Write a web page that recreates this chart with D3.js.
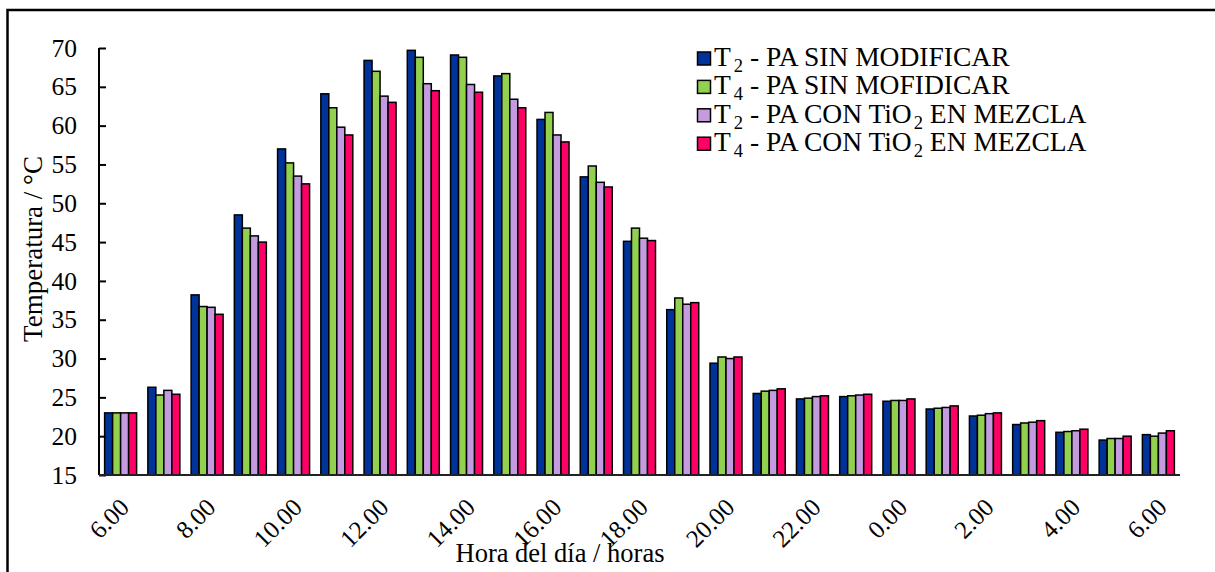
<!DOCTYPE html>
<html>
<head>
<meta charset="utf-8">
<script src="https://cdn.jsdelivr.net/npm/d3@7"></script>
<style>
  body { margin: 0; background: #fff; }
  svg { display: block; font-family: "Liberation Serif", "Times New Roman", serif; }
</style>
</head>
<body>
<div id="vis"></div>
<script>
// categories (hour of day) and tick labels
const hours = ["6.00", "7.00", "8.00", "9.00", "10.00", "11.00", "12.00", "13.00", "14.00",
  "15.00", "16.00", "17.00", "18.00", "19.00", "20.00", "21.00", "22.00", "23.00",
  "0.00", "1.00", "2.00", "3.00", "4.00", "5.00", "6.00 "];
const shownLabels = ["6.00", "8.00", "10.00", "12.00", "14.00", "16.00", "18.00", "20.00",
  "22.00", "0.00", "2.00", "4.00", "6.00 "];
const yTicks = [15, 20, 25, 30, 35, 40, 45, 50, 55, 60, 65, 70];

// series values (°C)
const t2Sin = [23.0, 26.3, 38.2, 48.5, 57.0, 64.1, 68.4, 69.7, 69.1, 66.4, 60.8, 53.4, 45.1,
  36.3, 29.4, 25.5, 24.8, 25.1, 24.5, 23.5, 22.6, 21.5, 20.5, 19.5, 20.2];
const t4Sin = [23.0, 25.3, 36.7, 46.8, 55.2, 62.3, 67.0, 68.8, 68.8, 66.7, 61.7, 54.8, 46.8,
  37.8, 30.2, 25.8, 24.9, 25.2, 24.6, 23.6, 22.7, 21.7, 20.6, 19.7, 20.0];
const t2Tio = [23.0, 25.9, 36.6, 45.8, 53.5, 59.8, 63.8, 65.4, 65.3, 63.4, 58.8, 52.7, 45.5,
  37.0, 30.0, 25.9, 25.1, 25.3, 24.6, 23.7, 22.9, 21.8, 20.7, 19.7, 20.4];
const t4Tio = [23.0, 25.4, 35.7, 45.0, 52.5, 58.8, 63.0, 64.5, 64.3, 62.3, 57.9, 52.1, 45.2,
  37.2, 30.2, 26.1, 25.2, 25.4, 24.8, 23.9, 23.0, 22.0, 20.9, 20.0, 20.7];

const seriesKeys = ["t2Sin", "t4Sin", "t2Tio", "t4Tio"];
const seriesColors = ["#003399", "#92d050", "#c49be0", "#ff0066"];
const seriesValues = [t2Sin, t4Sin, t2Tio, t4Tio];

const W = 1215, H = 572;
const plot = { left: 99, right: 1180, top: 48, bottom: 475 };

const svg = d3.select("#vis").append("svg")
  .attr("width", W)
  .attr("height", H);

// outer frame (runs off the right and bottom of the picture)
svg.append("rect")
  .attr("x", 7.5).attr("y", 10)
  .attr("width", 1300).attr("height", 700)
  .attr("fill", "none")
  .attr("stroke", "#000")
  .attr("stroke-width", 2.5);

const x = d3.scaleBand()
  .domain(hours)
  .range([plot.left, plot.right])
  .paddingInner(0.26)
  .paddingOuter(0.13);

const xSub = d3.scaleBand()
  .domain(seriesKeys)
  .range([0, x.bandwidth()]);

const y = d3.scaleLinear()
  .domain([15, 70])
  .range([plot.bottom, plot.top]);

// bars
const groups = svg.append("g")
  .selectAll("g")
  .data(hours)
  .join("g")
  .attr("transform", d => `translate(${x(d)},0)`);

groups.selectAll("rect")
  .data((d, i) => seriesKeys.map((k, j) => ({ key: k, color: seriesColors[j], value: seriesValues[j][i] })))
  .join("rect")
  .attr("x", d => xSub(d.key))
  .attr("y", d => y(d.value))
  .attr("width", xSub.bandwidth())
  .attr("height", d => y(15) - y(d.value))
  .attr("fill", d => d.color)
  .attr("stroke", "#000")
  .attr("stroke-width", 1.5);

// y axis
const yAxis = svg.append("g")
  .attr("transform", `translate(${plot.left},0)`)
  .call(d3.axisRight(y).tickValues(yTicks).tickSize(7).tickFormat(d3.format("d")));
yAxis.select(".domain").attr("stroke", "#000").attr("stroke-width", 2)
  .attr("d", `M0,${plot.top}V${plot.bottom}`);
yAxis.selectAll(".tick line").attr("stroke", "#000").attr("stroke-width", 2);
yAxis.selectAll(".tick text")
  .attr("x", -22)
  .attr("text-anchor", "end")
  .attr("font-size", 25.5)
  .attr("font-family", "Liberation Serif")
  .attr("fill", "#000");

// x axis
const xAxis = svg.append("g")
  .attr("transform", `translate(0,${plot.bottom})`)
  .call(d3.axisBottom(x).tickValues(shownLabels).tickSize(0).tickFormat(d => d.trim()));
xAxis.select(".domain").attr("stroke", "#222").attr("stroke-width", 2)
  .attr("d", `M${plot.left},0H${plot.right}`);
xAxis.selectAll(".tick text")
  .attr("font-size", 25)
  .attr("font-family", "Liberation Serif")
  .attr("fill", "#000")
  .attr("text-anchor", "end")
  .attr("dy", null)
  .attr("y", 0)
  .attr("transform", "translate(10,34) rotate(-45)");

// axis titles
svg.append("text")
  .attr("x", 560)
  .attr("y", 562)
  .attr("text-anchor", "middle")
  .attr("font-size", 26.5)
  .text("Hora del día / horas");

svg.append("text")
  .attr("transform", "translate(42,249) rotate(-90)")
  .attr("text-anchor", "middle")
  .attr("font-size", 27)
  .text("Temperatura / °C");

// legend
const legendItems = [
  { sub1: "2", mid: " - PA SIN MODIFICAR", sub2: null, tail: "" },
  { sub1: "4", mid: " - PA SIN MOFIDICAR", sub2: null, tail: "" },
  { sub1: "2", mid: " - PA CON TiO", sub2: "2", tail: " EN MEZCLA" },
  { sub1: "4", mid: " - PA CON TiO", sub2: "2", tail: " EN MEZCLA" }
];

const legend = svg.append("g")
  .attr("transform", "translate(697,66)");

const rows = legend.selectAll("g")
  .data(legendItems)
  .join("g")
  .attr("transform", (d, i) => `translate(0,${i * 28.4})`);

rows.append("rect")
  .attr("x", 0.5).attr("y", -14)
  .attr("width", 13).attr("height", 13)
  .attr("fill", (d, i) => seriesColors[i])
  .attr("stroke", "#000")
  .attr("stroke-width", 1.5);

const label = rows.append("text")
  .attr("x", 17)
  .attr("font-size", 27.5);

label.append("tspan").text("T");
label.append("tspan").attr("dx", 3).attr("dy", 6).attr("font-size", 18.5).text(d => d.sub1);
label.append("tspan").attr("dy", -6).text(d => d.mid);
label.filter(d => d.sub2).append("tspan").attr("dx", 2).attr("dy", 6).attr("font-size", 18.5).text(d => d.sub2);
label.filter(d => d.sub2).append("tspan").attr("dy", -6).text(d => d.tail);
</script>
</body>
</html>
